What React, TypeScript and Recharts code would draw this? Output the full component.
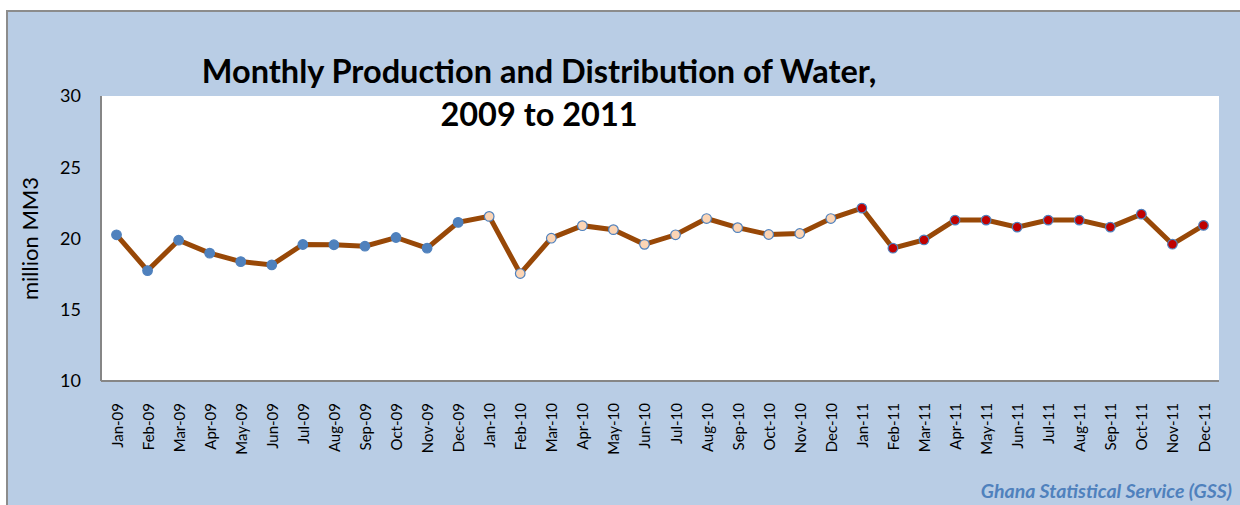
import { ComposedChart, Line, XAxis, YAxis, CartesianGrid } from "recharts";

const months = [
  "Jan-09", "Feb-09", "Mar-09", "Apr-09", "May-09", "Jun-09",
  "Jul-09", "Aug-09", "Sep-09", "Oct-09", "Nov-09", "Dec-09",
  "Jan-10", "Feb-10", "Mar-10", "Apr-10", "May-10", "Jun-10",
  "Jul-10", "Aug-10", "Sep-10", "Oct-10", "Nov-10", "Dec-10",
  "Jan-11", "Feb-11", "Mar-11", "Apr-11", "May-11", "Jun-11",
  "Jul-11", "Aug-11", "Sep-11", "Oct-11", "Nov-11", "Dec-11",
];

// million MM3
const water = [
  20.26, 17.75, 19.88, 18.97, 18.38, 18.15, 19.58, 19.56, 19.46, 20.07, 19.32, 21.13,
  21.55, 17.54, 20.02, 20.9, 20.62, 19.59, 20.26, 21.4, 20.76, 20.28, 20.35, 21.4,
  22.13, 19.32, 19.9, 21.29, 21.29, 20.8, 21.29, 21.29, 20.8, 21.71, 19.6, 20.92,
];

const yTicks = [10, 15, 20, 25, 30];

const data = months.map((month, i) => ({ month, value: water[i] }));

const markerFill: Record<string, string> = {
  "09": "#4f81bd",
  "10": "#fcd5b5",
  "11": "#c00000",
};

const FONT = "Lato, 'Open Sans', sans-serif";

function MonthTick({ x, y, payload }: any) {
  return (
    <text
      x={x}
      y={y + 14}
      transform={`rotate(-90, ${x}, ${y + 14})`}
      textAnchor="end"
      dominantBaseline="central"
      fontSize={15}
      fontFamily={FONT}
      fill="#000"
    >
      {payload.value}
    </text>
  );
}

function YearDot({ cx, cy, payload }: any) {
  const fill = markerFill[payload.month.slice(-2)];
  return (
    <circle
      key={payload.month}
      cx={cx}
      cy={cy}
      r={4.8}
      fill={fill}
      stroke="#4f81bd"
      strokeWidth={1.2}
    />
  );
}

export default function App() {
  return (
    <div style={{ position: "absolute", left: 0, top: 0, width: 1240, height: 505, overflow: "hidden" }}>
      <div
        style={{
          position: "absolute",
          left: 6,
          top: 10,
          width: 1250,
          height: 510,
          background: "#b9cde5",
          borderLeft: "2px solid #8c8c8c",
          borderTop: "2px solid #8c8c8c",
        }}
      />

      <div style={{ position: "absolute", left: 0, top: 0 }}>
        <ComposedChart
          width={1240}
          height={505}
          data={data}
          margin={{ top: 96, right: 21, bottom: 0, left: 0 }}
        >
          <CartesianGrid fill="#fff" stroke="none" horizontal={false} vertical={false} />
          <XAxis
            dataKey="month"
            interval={0}
            padding={{ left: 15.5, right: 15.5 }}
            height={124}
            axisLine={{ stroke: "#868686", strokeWidth: 2 }}
            tickLine={false}
            tick={<MonthTick />}
          />
          <YAxis
            domain={[10, 30]}
            ticks={yTicks}
            width={101}
            axisLine={{ stroke: "#868686", strokeWidth: 2 }}
            tickLine={false}
            tickMargin={14}
            tick={{ fontSize: 18, fill: "#000", fontFamily: FONT }}
            label={{
              value: "million MM3",
              angle: -90,
              position: "center",
              dx: -20,
              fontSize: 22,
              fill: "#000",
              fontFamily: FONT,
            }}
          />
          <Line
            type="linear"
            dataKey="value"
            stroke="#984807"
            strokeWidth={5}
            dot={<YearDot />}
            activeDot={false}
            isAnimationActive={false}
          />
        </ComposedChart>
      </div>

      <div
        style={{
          position: "absolute",
          left: 0,
          width: 1078,
          top: 49,
          textAlign: "center",
          fontFamily: FONT,
          fontWeight: "bold",
          fontSize: 32.5,
          lineHeight: "43px",
          color: "#000",
        }}
      >
        <div>Monthly Production and Distribution of Water,</div>
        <div>2009 to 2011</div>
      </div>

      <div
        style={{
          position: "absolute",
          right: 8,
          top: 479,
          fontFamily: FONT,
          fontWeight: "bold",
          fontStyle: "italic",
          fontSize: 19.5,
          color: "#4f81bd",
        }}
      >
        Ghana Statistical Service (GSS)
      </div>
    </div>
  );
}
